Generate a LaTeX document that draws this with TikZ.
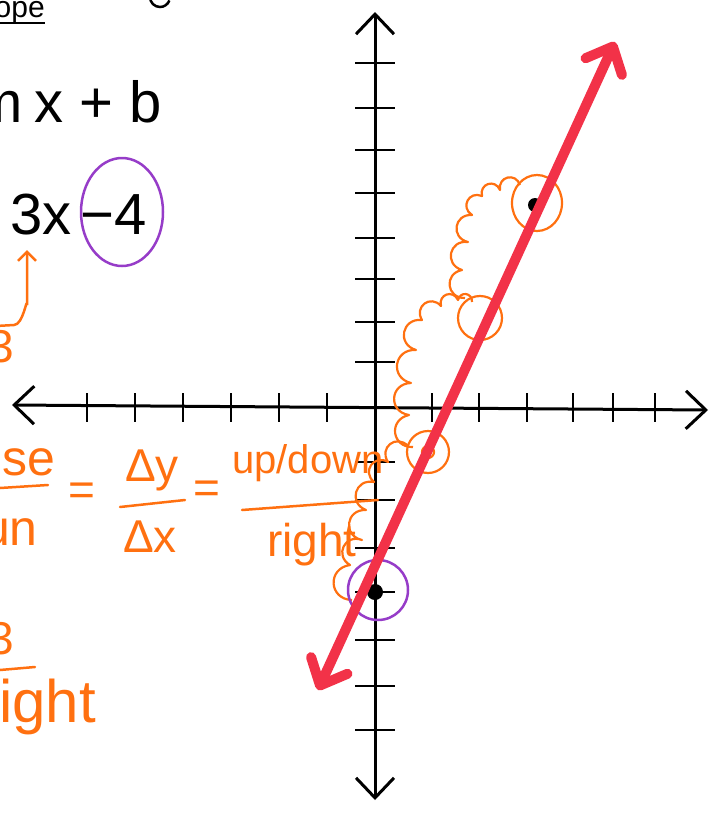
\documentclass[tikz,border=0pt]{standalone}
\usepackage{fontspec}
\setmainfont{Liberation Sans}
\usetikzlibrary{arrows.meta,positioning}
\definecolor{penred}{RGB}{242,50,72}
\definecolor{penorange}{RGB}{255,112,16}
\definecolor{penpurple}{RGB}{150,60,200}

\begin{document}
\begin{tikzpicture}[x=1pt,y=-1pt,
  axis/.style={line width=3pt,line cap=round,{Straight Barb[length=20pt,width=38pt]}-{Straight Barb[length=20pt,width=38pt]}},
  tickmark/.style={line width=2.5pt},
  redline/.style={draw=penred,line width=10pt,line cap=round,{Straight Barb[length=22pt,width=40pt,round]}-{Straight Barb[length=22pt,width=40pt,round]}},
  ring/.style={draw=penorange,line width=2.2pt},
  cloud/.style={draw=penorange,line width=2.2pt,line join=round},
  hump/.style={bend left=85,looseness=1.7},
  ink/.style={font=\fontsize{58}{62}\selectfont,inner sep=0pt},
  oink/.style={text=penorange,font=\fontsize{46}{50}\selectfont,inner sep=0pt},
  bar/.style={draw=penorange,line width=2.5pt,line cap=round}]
\useasboundingbox (0,0) rectangle (718,814);

% axes
\draw[axis] (12,405) -- (708,410);
\draw[axis] (375,800) -- (375,12);
\foreach \x in {87,135,183,231,279,327,432,479,527,573,613,655}
  \draw[tickmark] (\x,393) -- (\x,422);
\foreach \y in {63,108,150,193,238,279,322,362,462,500,548,592,640,686,730}
  \draw[tickmark] (355,\y) -- (395,\y);

% points on the line
\coordinate (p0) at (375,592);
\coordinate (p1) at (428,452);
\coordinate (p2) at (480,318);
\coordinate (p3) at (535,205);
\coordinate (redlow) at (318,690);
\coordinate (redhigh) at (615,42);

% rise/run steps
\draw[cloud] (352,600) to[hump] (350,565) to[hump] (362,540) to[hump] (366,510)
  to[hump] (374,482) to[hump] (388,462) to[hump] (408,446);
\draw[cloud] (413,447) to[hump] (409,415) to[hump] (411,383) to[hump] (416,350)
  to[hump] (422,320) to[hump] (441,306) to[hump] (458,300) to[hump] (472,302);
\draw[cloud] (465,298) to[hump] (462,270) to[hump] (468,242) to[hump] (472,215)
  to[hump] (482,196) to[hump] (500,190) to[hump] (520,185);

\fill (p0) circle[radius=8];
\fill (p3) circle[radius=7];
\draw[ring] (p1) circle[radius=6];
\draw[ring] (p1) circle[radius=21];
\draw[ring] (p2) circle[radius=22];
\draw[ring] (537,203) ellipse[x radius=25,y radius=28];
\draw[penpurple,line width=2.5pt] (378,590) circle[radius=30];

\draw[redline] (redlow) -- (redhigh);

% equations
\node[ink,font=\fontsize{30}{34}\selectfont,anchor=base east] (slope) at (45,17) {slope};
\draw[line width=2pt] ([yshift=-6pt]slope.base west) -- ([yshift=-6pt]slope.base east);
\draw[line width=2.5pt] (150,-3) arc[start angle=180,end angle=20,radius=10];
\node[ink,anchor=base east] (eqgen) at (162,122) {y = m\hspace{12pt}x + b};
\node[ink,anchor=base east] (eqthree) at (72,234) {y = 3x};
\node[ink,anchor=base west] (minfour) at ([xshift=8pt]eqthree.base east) {−4};
\draw[penpurple,line width=2.5pt] (122,212) ellipse[x radius=41,y radius=54];

% slope value
\node[oink,anchor=base west] (mval) at (-12,362) {3};
\coordinate (mtip) at (27,250);
\draw[penorange,line width=2.5pt,line cap=round,-{Straight Barb[length=9pt,width=18pt]}] (-4,326) -- (14,325) to[out=0,in=90] (27,305) -- (mtip);

% slope formula
\node[oink,anchor=base east,font=\fontsize{50}{54}\selectfont] (rise) at (56,475) {rise};
\draw[bar] (0,488) -- (48,485);
\node[oink,anchor=base east,font=\fontsize{50}{54}\selectfont] (run) at (38,545) {run};
\node[oink] (eqa) at (82,494) {=};
\node[oink] (dy) at (152,470) {Δy};
\draw[bar] (120,507) -- (185,500);
\node[oink] (dx) at (150,537) {Δx};
\node[oink] (eqb) at (207,492) {=};
\node[oink,font=\fontsize{40}{44}\selectfont] (updown) at (308,463) {up/down};
\draw[bar] (242,510) -- (378,500);
\node[oink] (right) at (312,545) {right};

\node[oink,anchor=base west] (upthree) at (-12,654) {3};
\draw[bar] (0,670) -- (35,667);
\node[oink,anchor=base east,font=\fontsize{60}{64}\selectfont] (rightb) at (96,722) {right};
\end{tikzpicture}
\end{document}
